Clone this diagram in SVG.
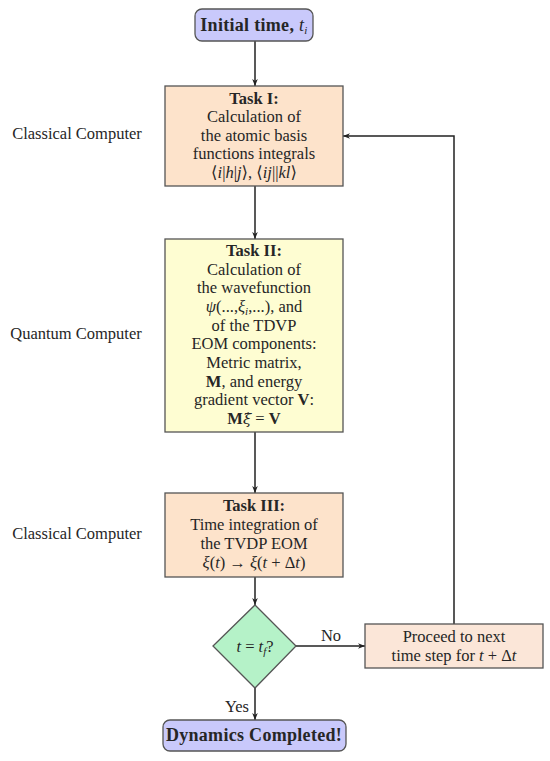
<svg xmlns="http://www.w3.org/2000/svg" width="550" height="761" viewBox="0 0 550 761">
<defs>
<marker id="ah" viewBox="0 0 10 10" refX="10" refY="5" markerWidth="7" markerHeight="7" markerUnits="userSpaceOnUse" orient="auto">
<path d="M0,1 L10,5 L0,9 L3,5 Z" fill="#222"/>
</marker>
<style>
text{font-family:"Liberation Serif","DejaVu Serif",serif;font-size:16.5px;fill:#262626;text-anchor:middle}
.b{font-weight:bold}
.i{font-style:italic}
.big{font-size:18px;letter-spacing:0.3px}
.box{stroke:#555;stroke-width:1.3}
.term{fill:#c9c9fb}
.peach{fill:#fde3cb}
.yellow{fill:#fefdd2}
.green{fill:#b5f2c8}
.step{fill:#fbe6d8}
.edge{fill:none;stroke:#222;stroke-width:1.5;marker-end:url(#ah)}
</style>
</defs>
<rect width="550" height="761" fill="#ffffff"/>

<g id="labels">
<text x="77" y="139">Classical Computer</text>
<text x="76" y="339">Quantum Computer</text>
<text x="77" y="539">Classical Computer</text>
</g>

<g id="connectors">
<line x1="255" y1="41" x2="255" y2="86" class="edge"/>
<line x1="255" y1="186" x2="255" y2="239" class="edge"/>
<line x1="255" y1="432" x2="255" y2="493" class="edge"/>
<line x1="255" y1="577" x2="255" y2="605" class="edge"/>
<line x1="255" y1="688" x2="255" y2="720" class="edge"/>
<line x1="296" y1="646" x2="365" y2="646" class="edge"/>
<polyline points="454,624 454,136 343,136" class="edge"/>
<text x="331" y="641">No</text>
<text x="237" y="712">Yes</text>
</g>

<g id="initial">
<rect x="195" y="9" width="118" height="32" rx="7" class="box term"/>
<text x="254" y="31" class="big"><tspan class="b">Initial time, </tspan><tspan class="i">t</tspan><tspan class="i" font-size="11" dy="3">i</tspan></text>
</g>

<g id="task1">
<rect x="165" y="86" width="178" height="100" class="box peach"/>
<text x="254" y="104" class="b">Task I:</text>
<text x="254" y="122">Calculation of</text>
<text x="254" y="141">the atomic basis</text>
<text x="254" y="159">functions integrals</text>
<text x="254" y="178">⟨<tspan class="i">i</tspan>|<tspan class="i">h</tspan>|<tspan class="i">j</tspan>⟩, ⟨<tspan class="i">ij</tspan>||<tspan class="i">kl</tspan>⟩</text>
</g>

<g id="task2">
<rect x="165" y="239" width="178" height="193" class="box yellow"/>
<text x="254" y="256" class="b">Task II:</text>
<text x="254" y="275">Calculation of</text>
<text x="254" y="293">the wavefunction</text>
<text x="254" y="312"><tspan class="i">ψ</tspan>(...,<tspan class="i">ξ</tspan><tspan class="i" font-size="11" dy="3">i</tspan><tspan dy="-3">,...), and</tspan></text>
<text x="254" y="331">of the TDVP</text>
<text x="254" y="349">EOM components:</text>
<text x="254" y="368">Metric matrix,</text>
<text x="254" y="387"><tspan class="b">M</tspan>, and energy</text>
<text x="254" y="405">gradient vector <tspan class="b">V</tspan>:</text>
<text x="254" y="424"><tspan class="b">M</tspan><tspan class="i" font-family="DejaVu Serif" font-size="15">ξ̇</tspan> = <tspan class="b">V</tspan></text>
</g>

<g id="task3">
<rect x="165" y="493" width="178" height="84" class="box peach"/>
<text x="254" y="511" class="b">Task III:</text>
<text x="254" y="530">Time integration of</text>
<text x="254" y="549">the TVDP EOM</text>
<text x="254" y="568"><tspan class="i">ξ</tspan>(<tspan class="i">t</tspan>) → <tspan class="i">ξ</tspan>(<tspan class="i">t</tspan> + Δ<tspan class="i">t</tspan>)</text>
</g>

<g id="decision">
<polygon points="255,605 296,646 255,688 213,646" class="box green"/>
<text x="255" y="652"><tspan class="i">t</tspan> = <tspan class="i">t</tspan><tspan class="i" font-size="11" dy="3">f</tspan><tspan dy="-3">?</tspan></text>
</g>

<g id="proceed">
<rect x="365" y="624" width="178" height="44" class="box step"/>
<text x="454" y="642">Proceed to next</text>
<text x="454" y="661">time step for <tspan class="i">t</tspan> + Δ<tspan class="i">t</tspan></text>
</g>

<g id="done">
<rect x="163" y="720" width="183" height="31" rx="7" class="box term"/>
<text x="254" y="741" class="b big">Dynamics Completed!</text>
</g>
</svg>
